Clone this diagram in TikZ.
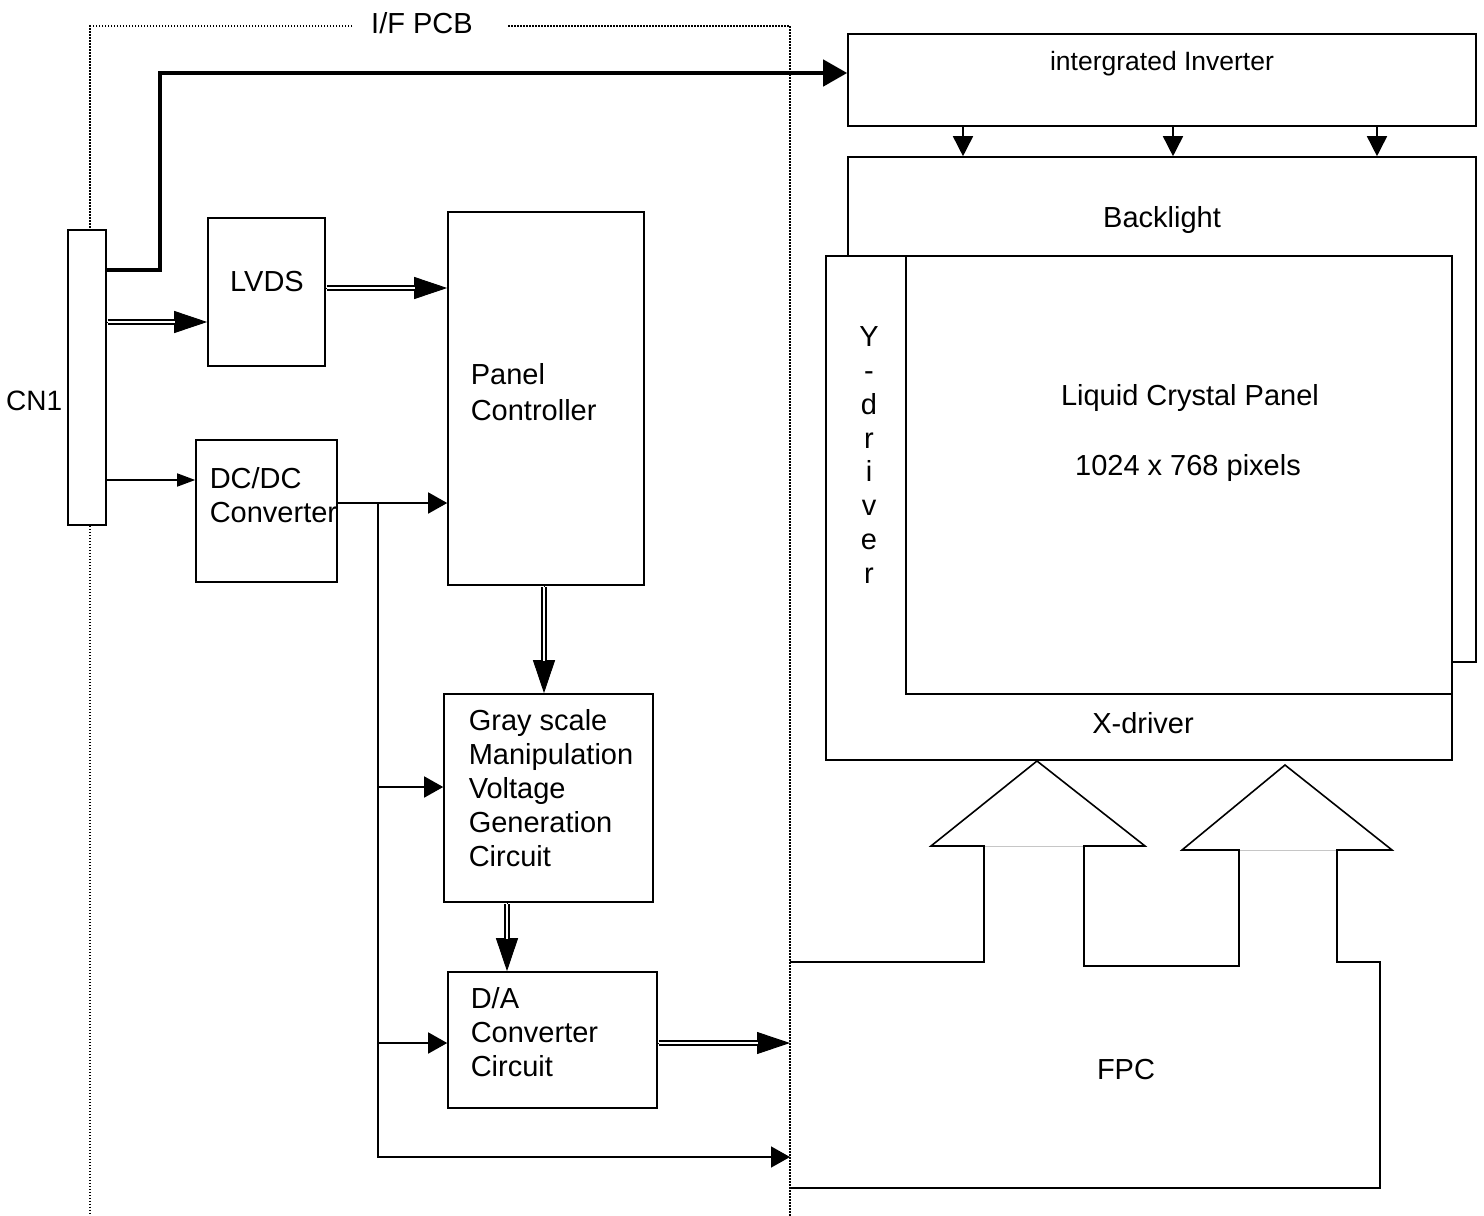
\documentclass[tikz,border=0pt]{standalone}
\usepackage{fontspec}
\setmainfont{Liberation Sans}
\usetikzlibrary{arrows.meta}

% double bus line with one solid tip
\newcommand\busarrow[2]{%
  \draw[bustip] #1 -- #2;
  \draw[bus] #1 -- #2;}

\begin{document}
\begin{tikzpicture}[
    x=1pt, y=-1pt,
    line width=1.6pt,
    box/.style={draw, rectangle, inner sep=0pt, fill=white},
    txt/.style={inner sep=0pt, align=left, font=\fontsize{29}{34}\selectfont},
    ctxt/.style={inner sep=0pt, align=center, font=\fontsize{29}{34}\selectfont},
    pcb/.style={line width=1.5pt, dash pattern=on 1.5pt off 1.5pt},
    sig/.style={-{Triangle[length=19pt, width=21pt]}},
    bus/.style={double, double distance=2.6pt, line width=1.3pt, shorten <=1pt, shorten >=32pt},
    bustip/.style={line width=1pt, -{Triangle[length=33pt, width=22pt]}},
    power/.style={line width=4.5pt, -{Triangle[length=24pt, width=26pt]}},
]
\useasboundingbox (0,0) rectangle (1484,1216);

% interface board
\node[ctxt] (pcbname) at (422,23) {I/F PCB};
\node[box, minimum width=38pt, minimum height=295pt] (cn1) at (87,377.5) {};
\node[ctxt, anchor=east, font=\fontsize{28}{34}\selectfont] (cn1name) at (63,401) {CN1};
\draw[pcb] (352,26) -| (cn1.north -| 90,0);
\draw[pcb] (cn1.south -| 90,0) -- (90,1216);
\draw[pcb] (508,26) -| (790,1216);

\node[box, minimum width=117pt, minimum height=148pt] (lvds) at (266.5,292) {};
\node[ctxt] (lvdsname) at (267,282) {LVDS};
\node[box, minimum width=141pt, minimum height=142pt] (dcdc) at (266.5,511) {};
\node[txt, anchor=west] (dcdcname) at (209,495) {DC/DC\\Converter};
\node[box, minimum width=196pt, minimum height=373pt] (ctrl) at (546,398.5) {};
\node[txt, anchor=west, font=\fontsize{29}{36}\selectfont] (ctrlname) at (470,392) {Panel\\Controller};
\node[box, minimum width=209pt, minimum height=208pt] (gray) at (548.5,798) {};
\node[txt, anchor=west] (grayname) at (468,788.5) {Gray scale\\Manipulation\\Voltage\\Generation\\Circuit};
\node[box, minimum width=209pt, minimum height=136pt] (da) at (552.5,1040) {};
\node[txt, anchor=west] (daname) at (470,1032.5) {D/A\\Converter\\Circuit};

% module side
\node[box, minimum width=628pt, minimum height=92pt] (inv) at (1162,80) {};
\node[ctxt, font=\fontsize{26.5}{32}\selectfont] (invname) at (1162,64) {intergrated Inverter};
\node[box, minimum width=628pt, minimum height=505pt] (back) at (1162,409.5) {};
\node[ctxt] (backname) at (1162,220) {Backlight};
\node[box, minimum width=626pt, minimum height=504pt] (lcd) at (1139,508) {};
\node[box, minimum width=546pt, minimum height=438pt] (panel) at (1179,475) {};
\node[ctxt, font=\fontsize{29}{33.9}\selectfont] (ydrv) at (869,455) {Y\\-\\d\\r\\i\\v\\e\\r};
\node[ctxt] (panelname) at (1190,398) {Liquid Crystal Panel};
\node[ctxt] (pixels) at (1188,468) {1024 x 768 pixels};
\node[ctxt] (xdrv) at (1143,723) {X-driver};

% FPC with its two up arrows
\draw[gray!45, line width=1pt] (984,846) -- (1084,846) (1239,850) -- (1337,850);
\draw (790,962) -- (984,962) -- (984,846) -- (931,846) -- (1037,761) -- (1145,846)
  -- (1084,846) -- (1084,966) -- (1239,966) -- (1239,850) -- (1182,850) -- (1285,765)
  -- (1392,850) -- (1337,850) -- (1337,962) -- (1380,962) -- (1380,1188) -- (790,1188);
\node[ctxt] (fpc) at (1126,1070) {FPC};
\coordinate (fpcda) at (790,1043);
\coordinate (fpcpw) at (790,1157);

% connections
\draw[power] (cn1.east |- 0,270) -| (160,73) -- (inv.west |- 0,73);
\busarrow{(cn1.east |- 0,322)}{(lvds.west |- 0,322)}
\busarrow{(lvds.east |- 0,288)}{(ctrl.west |- 0,288)}
\draw[-{Triangle[length=18pt, width=13pt]}] (cn1.east |- 0,480) -- (dcdc.west |- 0,480);
\draw[sig] (dcdc.east |- 0,503) -- (ctrl.west |- 0,503);
\coordinate (feed) at (378,503);
\draw[sig] (feed) |- (fpcpw);
\draw[sig] (feed |- 0,787) -- (gray.west |- 0,787);
\draw[sig] (feed |- 0,1043) -- (da.west |- 0,1043);
\busarrow{(ctrl.south -| 544,0)}{(gray.north -| 544,0)}
\busarrow{(gray.south -| 507,0)}{(da.north -| 507,0)}
\busarrow{(da.east |- 0,1043)}{(fpcda)}
\foreach \x in {963,1173,1377}
    \draw[-{Triangle[length=20pt, width=20pt]}] (inv.south -| \x,0) -- (back.north -| \x,0);
\end{tikzpicture}
\end{document}
